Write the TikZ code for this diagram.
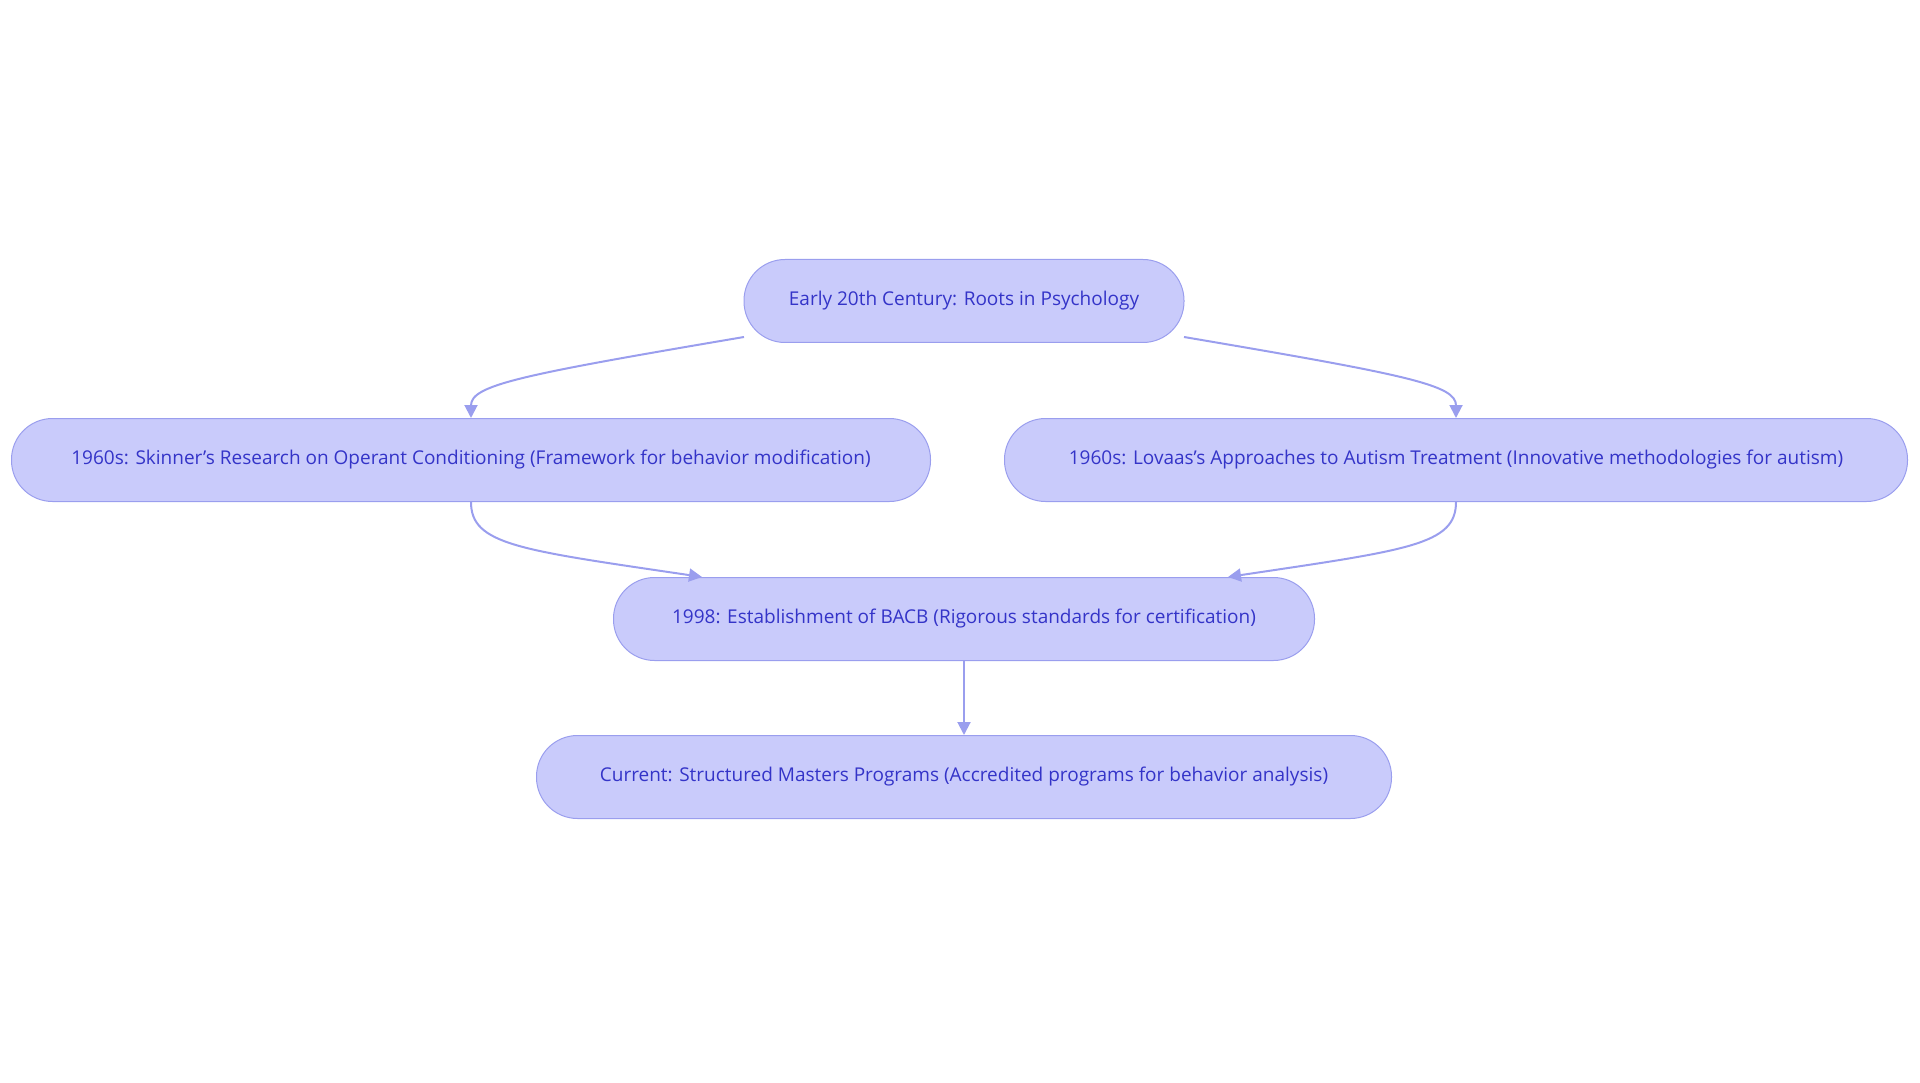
\documentclass[tikz,border=0pt]{standalone}
\usepackage{fontspec}
\setmainfont{Open Sans}
\usetikzlibrary{arrows.meta}
\definecolor{nfill}{HTML}{C9CBFB}
\definecolor{nline}{HTML}{9A9EEE}
\definecolor{ntext}{HTML}{3434C8}
\begin{document}
\begin{tikzpicture}[x=1pt,y=1pt,
  box/.style={draw=nline,line width=1pt,fill=nfill,rounded corners=41pt,text=ntext,font=\fontsize{19}{22}\selectfont,minimum height=83pt,inner sep=0pt},
  conn/.style={draw=nline,line width=2pt,-{Triangle[length=13pt,width=13pt]}}]
\useasboundingbox (0,0) rectangle (1920,-1083);
\node[box,minimum width=440pt] (a) at (964,-301) {Early 20th Century: Roots in Psychology};
\node[box,minimum width=919pt] (b) at (471,-460) {1960s: Skinner's Research on Operant Conditioning (Framework for behavior modification)};
\node[box,minimum width=903pt] (c) at (1456,-460) {1960s: Lovaas's Approaches to Autism Treatment (Innovative methodologies for autism)};
\node[box,minimum width=701pt] (d) at (964,-619) {1998: Establishment of BACB (Rigorous standards for certification)};
\node[box,minimum width=855pt] (e) at (964,-777) {Current: Structured Masters Programs (Accredited programs for behavior analysis)};
\coordinate (a1) at (744,-337);
\coordinate (a2) at (1184,-337);
\coordinate (d1) at (702,-577);
\coordinate (d2) at (1228,-577);
\draw[conn] (a1) .. controls (520,-375) and (471,-385) .. (b.north);
\draw[conn] (a2) .. controls (1408,-375) and (1456,-385) .. (c.north);
\draw[conn] (b.south) .. controls (471,-545) and (520,-550) .. (d1);
\draw[conn] (c.south) .. controls (1456,-545) and (1408,-550) .. (d2);
\draw[conn] (d.south) -- (e.north);
\end{tikzpicture}
\end{document}
